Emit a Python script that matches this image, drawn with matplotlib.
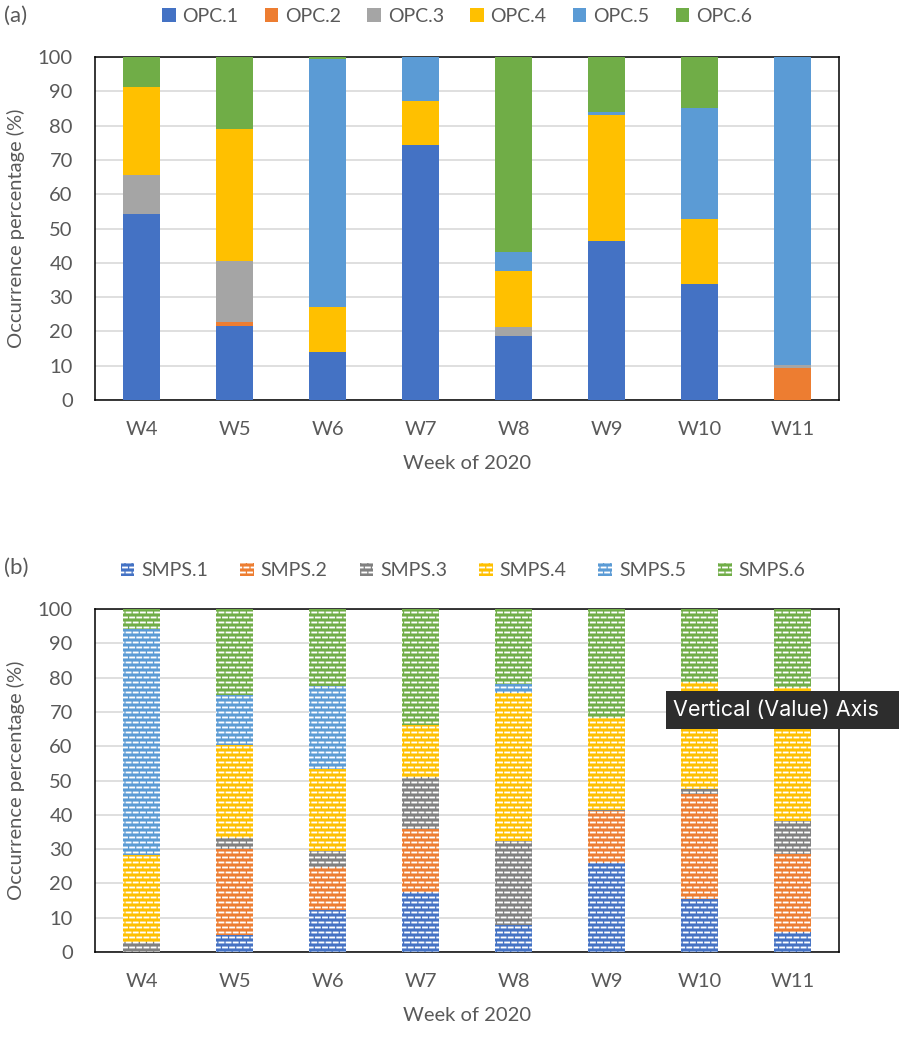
import numpy as np
import matplotlib
matplotlib.use('Agg')
import matplotlib.pyplot as plt
import matplotlib.hatch as mhatch
from matplotlib.path import Path
from matplotlib.patches import Rectangle

weeks = ['W4', 'W5', 'W6', 'W7', 'W8', 'W9', 'W10', 'W11']

# (a) OPC, percentage of each class per week
opc_names = ['OPC.1', 'OPC.2', 'OPC.3', 'OPC.4', 'OPC.5', 'OPC.6']
opc1 = [54.3, 21.7, 14.1, 74.3, 18.7, 46.3, 33.9, 0.0]
opc2 = [0.0, 1.1, 0.0, 0.0, 0.0, 0.0, 0.0, 9.4]
opc3 = [11.2, 17.7, 0.0, 0.0, 2.7, 0.0, 0.0, 0.9]
opc4 = [25.7, 38.4, 13.1, 12.8, 16.3, 36.7, 18.8, 0.0]
opc5 = [0.0, 0.0, 72.1, 12.9, 5.5, 1.0, 32.4, 89.7]
opc6 = [8.8, 21.1, 0.7, 0.0, 56.8, 16.0, 14.9, 0.0]

# (b) SMPS
smps_names = ['SMPS.1', 'SMPS.2', 'SMPS.3', 'SMPS.4', 'SMPS.5', 'SMPS.6']
smps1 = [0.0, 5.0, 12.3, 17.4, 8.0, 26.1, 15.5, 5.7]
smps2 = [0.0, 24.9, 12.5, 18.4, 0.0, 14.9, 30.6, 22.9]
smps3 = [2.8, 3.4, 4.7, 15.2, 24.4, 0.5, 1.4, 9.7]
smps4 = [25.5, 27.0, 23.8, 15.2, 43.0, 26.7, 31.3, 38.7]
smps5 = [65.9, 14.6, 24.4, 0.0, 2.7, 0.0, 0.0, 0.0]
smps6 = [5.8, 25.1, 22.3, 33.8, 21.9, 31.8, 21.2, 23.0]

opc_colors = ['#4472C4', '#ED7D31', '#A5A5A5', '#FFC000', '#5B9BD5', '#70AD47']
smps_colors = ['#4472C4', '#ED7D31', '#808080', '#FFC000', '#5B9BD5', '#70AD47']


# Excel style "dashed brick" fill: swap the plain '-' hatch for short offset dashes
class BrickDash(mhatch.HatchPatternBase):
    def __init__(self, hatch, density):
        self.rows = 20 if '-' in hatch else 0
        self.cols = 14
        self.num_vertices = (self.rows // 2) * (2 * self.cols + 1) * 2

    def set_vertices_and_codes(self, vertices, codes):
        half = 0.28 / self.cols
        k = 0
        for i in range(self.rows):
            y = (i + 0.5) / self.rows
            if i % 2 == 0:
                segs = [((j + 0.5) / self.cols - half, (j + 0.5) / self.cols + half)
                        for j in range(self.cols)]
            else:
                segs = [(0.0, half)] + [(j / self.cols - half, j / self.cols + half)
                                        for j in range(1, self.cols)] + [(1.0 - half, 1.0)]
            for x0, x1 in segs:
                vertices[k] = (x0, y)
                vertices[k + 1] = (x1, y)
                codes[k] = Path.MOVETO
                codes[k + 1] = Path.LINETO
                k += 2


mhatch._hatch_types = [BrickDash if t is mhatch.HorizontalHatch else t
                       for t in mhatch._hatch_types]

plt.rcParams['font.family'] = ['Lato', 'DejaVu Sans']
plt.rcParams['hatch.linewidth'] = 1.35
grey = '#595959'
fs = 14.5

fig = plt.figure(figsize=(8.99, 10.39), dpi=100)
ax1 = fig.add_axes([0.1057, 0.6150, 0.8276, 0.3301])
ax2 = fig.add_axes([0.1057, 0.0837, 0.8276, 0.3301])

x = np.arange(len(weeks))


def stack(ax, series, names, colors, hatch):
    bottom = np.zeros(len(weeks))
    for vals, name, col in zip(series, names, colors):
        vals = np.array(vals)
        if hatch:
            ax.bar(x, vals, 0.4, bottom=bottom, color=col, edgecolor='white',
                   linewidth=0, hatch='-', label=name, zorder=3)
        else:
            ax.bar(x, vals, 0.4, bottom=bottom, color=col, linewidth=0,
                   label=name, zorder=3)
        bottom += vals


stack(ax1, [opc1, opc2, opc3, opc4, opc5, opc6], opc_names, opc_colors, False)
stack(ax2, [smps1, smps2, smps3, smps4, smps5, smps6], smps_names, smps_colors, True)

for ax, tag, anchor, cs in [(ax1, '(a)', (0.4866, 1.119), 1.35),
                            (ax2, '(b)', (0.4946, 1.112), 1.65)]:
    ax.set_xlim(-0.5, len(weeks) - 0.5)
    ax.set_ylim(0, 100)
    ax.set_yticks(range(0, 101, 10))
    ax.set_xticks(x)
    ax.set_xticklabels(weeks)
    ax.tick_params(length=0, labelsize=fs, labelcolor=grey)
    ax.tick_params(axis='y', pad=16)
    ax.tick_params(axis='x', pad=15)
    ax.grid(axis='y', color='#D9D9D9', linewidth=1.2, zorder=0)
    ax.set_axisbelow(True)
    for s in ax.spines.values():
        s.set_linewidth(1.1)
        s.set_color('black')
    ax.set_xlabel('Week of 2020', fontsize=fs, color=grey, labelpad=12)
    ax.set_ylabel('Occurrence percentage (%)', fontsize=fs, color=grey)
    ax.yaxis.set_label_coords(-0.094, 0.5)
    ax.text(-0.123, 1.119, tag, transform=ax.transAxes, fontsize=16, color=grey,
            va='center', ha='left')
    leg = ax.legend(loc='center', bbox_to_anchor=anchor, ncol=6,
                    frameon=False, fontsize=14, handlelength=0.7, handleheight=0.7,
                    handletextpad=0.35, columnspacing=cs, borderpad=0)
    for t in leg.get_texts():
        t.set_color(grey)

# hover tooltip left over in the screenshot
fig.patches.append(Rectangle((0.7408, 0.2984), 0.2592, 0.0366, transform=fig.transFigure,
                             facecolor='#2D2D2D', edgecolor='none', zorder=10))
fig.text(0.7486, 0.3167, 'Vertical (Value) Axis', color='white', fontsize=15.5,
         family=['Inter', 'DejaVu Sans'], va='center', ha='left', zorder=11)

fig.savefig('out.png', dpi=100)
